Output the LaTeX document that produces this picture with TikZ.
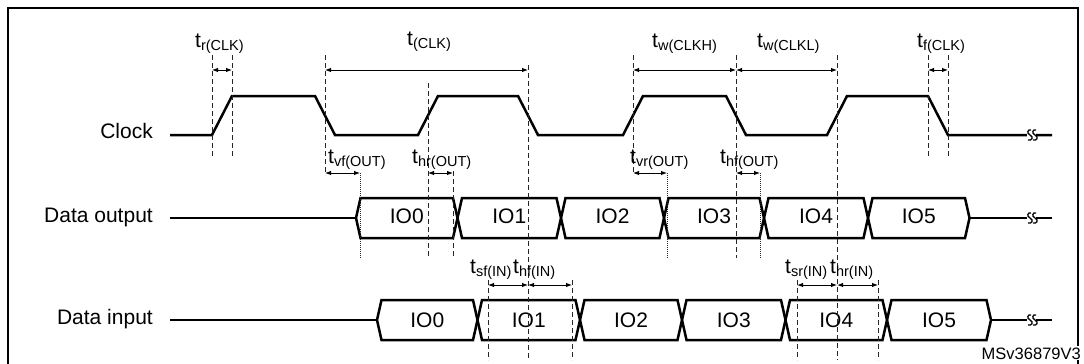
\documentclass[tikz,border=0pt]{standalone}
\usepackage{fontspec}
\setmainfont{Liberation Sans}
\usetikzlibrary{arrows.meta}
\newcommand{\tlab}[1]{{\fontsize{21}{24}\selectfont t}\raisebox{-3.5pt}{\fontsize{14.5}{16}\selectfont #1}}
\begin{document}
\begin{tikzpicture}[x=1pt,y=-1pt,
  wave/.style={line width=2.5pt},
  dim/.style={{Latex[length=6pt,width=4.5pt]}-{Latex[length=6pt,width=4.5pt]}, line width=1pt},
  vdash/.style={dash pattern=on 5pt off 3pt, line width=0.9pt, black!85},
  vdot/.style={dash pattern=on 1pt off 1pt, line width=0.8pt, black!85},
  siglab/.style={anchor=base east, font=\fontsize{21}{24}\selectfont, inner sep=0pt},
  iolab/.style={anchor=base, font=\fontsize{21}{24}\selectfont, inner sep=0pt},
  tl/.style={anchor=base west, inner sep=0pt},
  brk/.pic={
    \fill[white] (-4,-3) rectangle (5,3);
    \draw[line width=1.3pt] (0,-5) .. controls (-3,-6) and (-5,-2) .. (-1,0) .. controls (3,2) and (1,6) .. (-3,5);
    \draw[line width=1.3pt] (5,-5) .. controls (2,-6) and (0,-2) .. (4,0) .. controls (8,2) and (6,6) .. (2,5);
  }]
\useasboundingbox (0,0) rectangle (1084,364);
% frame
\draw[line width=2.6pt] (8,364) -- (8,8) -- (1078,8) -- (1078,364);

% signal labels
\node[siglab] (lclk) at (153,138) {Clock};
\node[siglab] (lout) at (153,222) {Data output};
\node[siglab] (lin) at (153,324) {Data input};

% clock waveform
\draw[wave] (170,135) -- (212,135) -- (232,96) -- (315,96) -- (335,135) -- (418,135) -- (438,96) -- (518,96) -- (538,135) -- (623,135) -- (643,96) -- (726,96) -- (746,135) -- (827,135) -- (847,96) -- (928,96) -- (948,135) -- (1052,135);
\pic at (1031,135) {brk};

% data output bus
\draw[wave] (170,218) -- (356,218);
\foreach \a/\b in {356/457.5, 457.5/561, 561/664, 664/764, 764/868, 868/969.5}{
  \draw[wave, line join=miter] (\a,218) -- (\a+4.5,198) -- (\b-4.5,198) -- (\b,218) -- (\b-4.5,238) -- (\a+4.5,238) -- cycle;
}
\draw[wave] (969.5,218) -- (1052,218);
\pic at (1031,218) {brk};
\node[iolab] (o0) at (406.75,223) {IO0};
\node[iolab] (o1) at (509.25,223) {IO1};
\node[iolab] (o2) at (612.5,223) {IO2};
\node[iolab] (o3) at (714,223) {IO3};
\node[iolab] (o4) at (816,223) {IO4};
\node[iolab] (o5) at (918.75,223) {IO5};

% data input bus
\draw[wave] (170,320) -- (377,320);
\foreach \a/\b in {377/477.5, 477.5/580, 580/682, 682/785.5, 785.5/887, 887/991}{
  \draw[wave, line join=miter] (\a,320) -- (\a+4.5,300) -- (\b-4.5,300) -- (\b,320) -- (\b-4.5,340) -- (\a+4.5,340) -- cycle;
}
\draw[wave] (991,320) -- (1052,320);
\pic at (1031,320) {brk};
\node[iolab] (i0) at (427.25,327) {IO0};
\node[iolab] (i1) at (528.75,327) {IO1};
\node[iolab] (i2) at (631,327) {IO2};
\node[iolab] (i3) at (733.75,327) {IO3};
\node[iolab] (i4) at (836.25,327) {IO4};
\node[iolab] (i5) at (939,327) {IO5};

% vertical reference lines
\draw[vdash] (212,55) -- (212,157);
\draw[vdash] (232,55) -- (232,157);
\draw[vdash] (325,55) -- (325,175);
\draw[vdash] (528,65) -- (528,360);
\draw[vdash] (428,83) -- (428,257);
\draw[vdash] (453,171) -- (453,258);
\draw[vdot]  (360,173) -- (360,258);
\draw[vdash] (633,55) -- (633,175);
\draw[vdot]  (667,173) -- (667,258);
\draw[vdash] (736,55) -- (736,258);
\draw[vdot]  (760,173) -- (760,258);
\draw[vdash] (837,55) -- (837,360);
\draw[vdash] (928,55) -- (928,157);
\draw[vdash] (948,55) -- (948,157);
\draw[vdash] (488,280) -- (488,360);
\draw[vdash] (572,280) -- (572,360);
\draw[vdash] (797,280) -- (797,360);
\draw[vdash] (878,280) -- (878,360);

% dimension end points
\coordinate (r1) at (212,70);  \coordinate (r2) at (232,70);
\coordinate (p1) at (325,70);  \coordinate (p2) at (528,70);
\coordinate (h1) at (633,70);  \coordinate (h2) at (736,70);  \coordinate (h3) at (837,70);
\coordinate (f1) at (928,70);  \coordinate (f2) at (948,70);
\coordinate (vf1) at (325,173); \coordinate (vf2) at (360,173);
\coordinate (hr1) at (428,173); \coordinate (hr2) at (453,173);
\coordinate (vr1) at (633,173); \coordinate (vr2) at (667,173);
\coordinate (hf1) at (736,173); \coordinate (hf2) at (760,173);
\coordinate (s1) at (488,285); \coordinate (s2) at (528,285); \coordinate (s3) at (572,285);
\coordinate (u1) at (797,285); \coordinate (u2) at (837,285); \coordinate (u3) at (878,285);

\draw[dim] (r1) -- (r2);
\draw[dim] (p1) -- (p2);
\draw[dim] (h1) -- (h2);
\draw[dim] (h2) -- (h3);
\draw[dim] (f1) -- (f2);
\draw[dim] (vf1) -- (vf2);
\draw[dim] (hr1) -- (hr2);
\draw[dim] (vr1) -- (vr2);
\draw[dim] (hf1) -- (hf2);
\draw[dim] (s1) -- (s2);
\draw[dim] (s2) -- (s3);
\draw[dim] (u1) -- (u2);
\draw[dim] (u2) -- (u3);

% timing labels
\node[tl] (trclk) at (195,47) {\tlab{r(CLK)}};
\node[tl] (tclk) at (407,45) {\tlab{(CLK)}};
\node[tl] (twh) at (652,47) {\tlab{w(CLKH)}};
\node[tl] (twl) at (757,47) {\tlab{w(CLKL)}};
\node[tl] (tfclk) at (917,47) {\tlab{f(CLK)}};
\node[tl] (tvf) at (328,163) {\tlab{vf(OUT)}};
\node[tl] (thr) at (412,163) {\tlab{hr(OUT)}};
\node[tl] (tvr) at (630,163) {\tlab{vr(OUT)}};
\node[tl] (thf) at (720,163) {\tlab{hf(OUT)}};
\node[tl] (tsf) at (470,273) {\tlab{sf(IN)}};
\node[tl] (thfi) at (513,273) {\tlab{hf(IN)}};
\node[tl] (tsr) at (785,273) {\tlab{sr(IN)}};
\node[tl] (thri) at (830,273) {\tlab{hr(IN)}};

\node[anchor=base east, inner sep=1pt, fill=white, font=\fontsize{16.5}{18}\selectfont] (ref) at (1082,359) {MSv36879V3};
\end{tikzpicture}
\end{document}
